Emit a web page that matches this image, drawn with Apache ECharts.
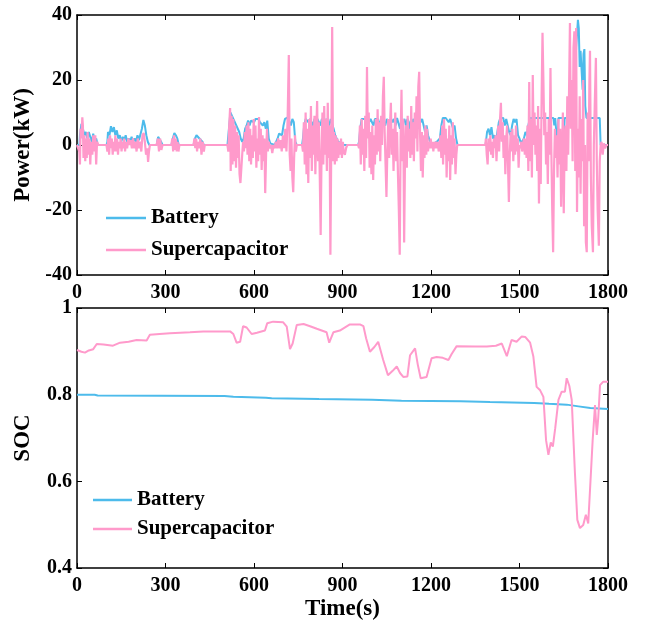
<!DOCTYPE html>
<html>
<head>
<meta charset="utf-8">
<script src="https://cdn.jsdelivr.net/npm/echarts@6/dist/echarts.min.js"></script>
<style>
  html, body { margin: 0; padding: 0; background: #fff; }
  #chart { width: 645px; height: 629px; }
</style>
</head>
<body>
<div id="chart"></div>
<script>
// 时间轴 (s)
const timeRange = [0, 1800, 300]
// 功率轴 (kW) / SOC 轴
const powerRange = [-40, 40, 20]
const socRange = [0.4, 1, 0.2]
const seriesNames = ['Battery', 'Supercapacitor']

// 电池功率 [t, kW]
const batteryPower = [
  [0,0],[8,0],[10,3],[15,6.5],[20,5],[25,3],[30,4],[35,2],[40,4],[45,2.5],[50,1],[55,3.5],[60,1],[65,2],[70,0],[100,0],
  [103,1],[105,4],[110,3],[115,5.8],[120,4],[125,5.5],[130,3],[135,4.5],[140,2],[145,3],[150,1],[155,2.5],[160,1.5],[165,3],[170,1],[175,2],[180,1],[185,2.5],[190,1],[195,2],[200,1],[205,3],[210,1.5],[215,2],[220,5],[225,7.7],[230,6],[235,3],[240,1],[245,0],
  [270,0],[275,2.5],[280,2.8],[285,1],[290,0],
  [320,0],[325,2],[330,3.7],[335,3],[340,2],[345,0],
  [395,0],[400,2],[405,3],[410,3],[415,2],[420,2.5],[425,1],[430,0],
  [510,0],[515,5],[520,10],[525,9],[530,8],[535,7],[540,6],[545,5],[550,4],[555,2],[560,1],[565,2],[570,5],[575,6],[580,7.5],[585,6],[590,7.5],[595,8],[600,7],[605,8],[610,7.5],
  [615,8],[620,7],[625,7.5],[630,6],[635,7],[640,5],[645,7.5],[650,2],[655,0.5],[660,0],[670,0],[675,0.5],[680,2],[685,3.5],[690,4],[695,3],[700,6],[705,8],[710,8.3],[715,8.5],[720,8.3],[725,6],[730,8],[735,7],[740,1],[745,0],
  [763,0],[766,2],[770,6],[775,8],[780,8],[785,7],[790,8],[795,8.3],[800,6],[805,8],[810,7.5],[815,8],[820,8],[825,6],[830,8],[835,8.3],[840,7],[845,8],[850,8],[855,6],[860,8],[865,8],[870,5],[875,3],[880,2],[885,1],[890,1.5],[895,0.5],[900,1],[905,0],
  [953,0],[956,1],[960,5],[965,8],[970,8.3],[975,8],[980,8.3],[985,8],[990,7],[995,8],[1000,8.3],[1005,6],[1010,8],[1015,7.5],[1020,8],[1025,5],[1030,8],[1035,8],[1040,7],[1045,6],[1050,8],[1055,7],[1060,4],[1065,8],[1070,7],[1075,8],[1080,6],[1085,8.3],[1090,8],[1095,5],[1100,8],[1105,7],[1110,8],[1115,6],[1120,8],[1125,7],[1130,4],[1135,6],[1140,8],[1145,7],[1150,8],[1155,5],[1160,8],[1165,7],[1170,8],[1175,6],[1180,4],[1185,6],[1190,3],[1195,1.5],[1200,0.5],[1205,1],[1210,0.5],[1215,1],
  [1220,1],[1225,0.5],[1230,2],[1235,6],[1240,8.3],[1245,8],[1250,8.3],[1255,8],[1260,7],[1265,8],[1270,8.3],[1275,5],[1280,6],[1285,2],[1290,0],
  [1385,0],[1390,4],[1395,5],[1400,3],[1405,5.5],[1410,2],[1415,3],[1420,1],[1425,4],[1430,7],[1435,8.3],[1440,8],[1445,8.3],[1450,6],[1455,8],[1460,8.3],[1465,4],[1470,3],[1475,6],[1480,8],[1485,7],[1490,8],[1495,3],[1500,2],[1505,0.5],[1510,1],[1515,2],[1520,4],
  [1525,3],[1530,6],[1535,8.3],[1615,8.3],[1618,6],[1621,8.3],[1626,8.3],[1628,0],[1632,8.3],[1648,8.3],[1650,0],[1653,8.3],[1680,8.3],[1684,12],[1688,20],[1692,30],[1695,34],[1698,38.5],[1701,36],[1704,24],[1707,29],[1711,29],[1714,17],[1717,28],[1720,29.5],[1723,12],[1727,8.3],[1772,8.3],[1775,0],[1780,0.5],[1785,0],[1790,0.5],[1800,0]
]

// 超级电容功率 [t, kW]
const supercapPower = [
  [0,0],[6,0],[8,-2],[10,-6],[12,5],[15,2],[18,8.5],[20,6],[22,-4],[25,3],[28,-5],[30,2],[33,-4],[36,4],[39,-3],[42,2],[45,-6],[48,1],[52,-3],[55,3],[58,-2],[62,3],[65,-6],[68,1],[72,0],
  [100,0],[103,-2],[106,2],[109,-3],[112,3],[115,-1],[118,2],[121,-3],[124,1],[127,-2],[130,3],[133,-2],[136,2],[139,-3],[142,1],[145,-1],[148,2],[151,-2],[154,1],[157,-1],[160,2],[163,-2],[166,1],[170,-1],[174,2],[178,0],[182,1.5],[186,-1],[190,2],[194,-1],[198,1],[202,-2],[206,2],[210,-1],[214,1],[218,-2],[222,3],[226,3.7],[230,1],[234,-3],[238,-1],[241,-5.2],[244,-2],[247,0],
  [270,0],[274,2],[278,-2],[282,2],[286,-1.5],[290,0],
  [320,0],[323,2],[326,-2],[329,3],[332,-1.5],[335,2],[338,-2],[341,1],[344,-2],[347,0],
  [395,0],[398,2],[401,-1],[404,2],[407,-2],[410,1],[414,-1],[418,2],[422,-3],[426,1],[430,-2],[433,0],
  [510,0],[513,-2],[516,6],[519,11.4],[521,-8],[524,9],[527,-6],[530,8],[533,-5],[536,6],[539,-7],[542,4],[545,-4],[548,3],[551,-9],[554,-11.7],[557,-12],[560,-3],[563,1],[566,-2],[569,4],[572,-1],[575,6],[578,-3],[581,7],[584,-5],[587,5],[590,-6],[593,3],[596,-4],[599,8],[602,-2],[605,6],[608,-7],
  [611,2],[614,-5],[617,8.6],[620,-3],[623,5],[626,-7.7],[629,3],[632,-5],[635,2],[638,-14.8],[641,-3],[644,5],[647,-2],[650,1],[654,-1],[658,0],[662,-2.5],[666,0],[670,-1],[674,1],[678,-1],[682,2],[686,-1],[690,1.5],[694,-2],[698,3],[702,-1],[706,5],[710,-2],[714,8],[718,27.7],[721,-3],[724,-8],[727,2],[730,-10],[733,-14.5],[736,-4],[739,3],[742,-2],[745,0],
  [763,0],[766,-2],[769,7],[772,-6],[775,10],[778,-9],[781,5],[784,-11.7],[787,8],[790,-4],[793,12],[796,-8],[799,6],[802,-3],[805,9],[808,-9],[811,4],[814,13.5],[817,-5],[820,7],[823,-10],[826,-27.7],[829,-2],[832,10],[835,-6],[838,12],[841,-3],[844,8],[847,-8],[850,13],[853,-4],[856,6],[859,-33.8],[862,0],[865,36.3],[868,-5],[871,4],[874,-6],[877,3],[880,-5],[883,2],[886,-4],[889,1],[892,-3],[895,2],[898,-4],[901,1],[904,-2],[908,-3],[912,-1],[916,0],
  [953,0],[956,-1],[959,6],[962,-6],[965,8],[968,-3],[971,5],[974,-8],[977,9],[980,-4],[983,24],[986,2],[989,10],[992,-7],[995,4],[998,-9],[1001,6],[1004,-10.8],[1007,3],[1010,-6],[1013,8],[1016,-3],[1019,11],[1022,-2],[1025,7],[1028,-5],[1031,9],[1034,0],[1037,15],[1040,21],[1043,4],[1046,-6],[1049,-16],[1052,-2],[1055,8],[1058,-4],[1061,6],[1064,13],[1067,-3],[1070,5],[1073,-8],[1076,3],[1079,10],[1082,-5],[1085,4],[1088,-9],[1091,-20],[1094,-33.8],[1097,2],[1100,17],[1103,-5],[1106,8],[1109,-30],[1112,-3],[1115,6],[1118,-7],[1121,9],[1124,-2],[1127,5],[1130,-4],[1133,12],[1136,-3],[1139,7],[1142,-5],[1145,10],[1148,2],[1151,15],[1154,-2],[1157,18],[1160,22.5],[1163,3],[1166,-8],[1169,4],[1172,-10],[1175,3],[1178,-4],[1181,6],[1184,-3],[1187,5],[1190,-2],[1193,1],[1196,-1],[1199,2],[1202,-1],[1205,1],[1208,-2],[1211,1],[1214,-1],
  [1217,1],[1220,-1],[1223,1],[1226,-2],[1229,0],[1232,3],[1235,-4],[1238,6],[1241,-6],[1244,8],[1247,-3],[1250,5],[1253,-10],[1256,2],[1259,-5],[1262,6],[1265,-10.8],[1268,3],[1271,-6],[1274,7],[1277,-4],[1280,2],[1283,-9],[1286,-3],[1289,0],
  [1384,0],[1386,2],[1389,-3],[1392,-6],[1395,2],[1398,-2],[1401,3],[1404,-3],[1407,1],[1410,-4],[1413,2],[1416,-1],[1419,3],[1422,-5],[1425,2],[1428,6],[1431,-2],[1434,8],[1437,13],[1440,1],[1443,7],[1446,-4],[1449,3],[1452,-9],[1455,2],[1458,6],[1461,-6],[1464,-17.5],[1467,-3],[1470,4],[1473,-2],[1476,5],[1479,-5],[1482,3],[1485,-3],[1488,6],[1491,-2],[1494,2],[1497,-7],[1500,0],[1503,-1],[1506,1],[1509,-2],[1512,0],[1515,2],[1518,-3],
  [1521,2],[1524,-4],[1527,6],[1530,-8],[1533,19.4],[1536,-5],[1539,8],[1542,-10],[1545,21.5],[1548,0],[1551,10],[1554,-3],[1557,6],[1560,-8],[1563,12],[1566,-18],[1569,5],[1572,-12],[1575,15],[1578,34.5],[1581,20],[1584,3],[1587,10],[1590,-6],[1593,4],[1596,-12],[1599,8],[1602,-3],[1605,23.7],[1608,-2],[1611,-20],[1614,-33],[1617,-8],[1620,5],[1623,-4],[1626,3],[1629,-10],[1632,8],[1635,-6],[1638,5],[1641,-19],[1644,-3],[1647,10],[1650,-21],[1653,2],[1656,6],[1659,-8],[1662,15],[1665,-3],[1668,17],[1671,37.5],[1674,5],[1677,20],[1680,-5],[1683,30],[1686,35],[1689,-8],[1692,36],[1695,-20.6],[1698,5],[1701,-10],[1704,15],[1707,-15],[1710,8],[1713,-5],[1716,20],[1719,-25],[1722,0],[1725,-30],[1728,-33],[1731,10],[1734,-5],[1737,20],[1739,29],[1742,-10],[1745,-25],[1749,-33],[1752,0],[1755,12],[1759,26.8],[1762,-5],[1765,-20],[1769,-31],[1772,-5],[1775,0],[1778,1],[1782,-3],[1786,0.5],[1790,-1],[1795,0],[1800,0]
]

// 电池 SOC [t, soc]
const batterySoc = [
  [0,0.800],[60,0.800],[70,0.798],[500,0.797],[530,0.795],[640,0.793],[660,0.792],[820,0.790],[1000,0.788],[1100,0.786],[1300,0.785],[1400,0.783],[1550,0.781],[1600,0.779],[1660,0.777],[1700,0.773],[1740,0.769],[1800,0.767]
]

// 超级电容 SOC [t, soc]
const supercapSoc = [
  [0,0.903],[15,0.899],[27,0.897],[40,0.902],[55,0.905],[67,0.917],[90,0.916],[122,0.913],[146,0.92],[175,0.922],[202,0.926],[236,0.925],[247,0.938],[280,0.940],[315,0.9415],[350,0.943],[383,0.944],[428,0.946],[519,0.946],[530,0.94],[541,0.92],[553,0.922],[563,0.958],[575,0.955],[592,0.94],[610,0.943],[637,0.948],[645,0.965],[665,0.9685],[699,0.967],[711,0.957],[722,0.905],[731,0.918],[745,0.961],[768,0.963],[790,0.958],[813,0.952],[846,0.944],[855,0.92],[869,0.944],[891,0.948],[925,0.962],[959,0.962],[971,0.958],[980,0.93],[993,0.899],[1008,0.91],[1021,0.922],[1038,0.88],[1054,0.845],[1070,0.855],[1084,0.865],[1095,0.85],[1106,0.841],[1120,0.842],[1129,0.891],[1146,0.907],[1155,0.87],[1165,0.838],[1185,0.841],[1202,0.884],[1219,0.887],[1240,0.885],[1259,0.88],[1270,0.894],[1287,0.912],[1350,0.911],[1389,0.911],[1420,0.913],[1440,0.918],[1457,0.889],[1473,0.926],[1490,0.922],[1507,0.934],[1520,0.933],[1536,0.92],[1547,0.888],[1558,0.818],[1570,0.81],[1581,0.795],[1590,0.695],[1598,0.661],[1606,0.69],[1613,0.68],[1621,0.722],[1632,0.788],[1643,0.807],[1654,0.807],[1660,0.838],[1669,0.82],[1677,0.788],[1688,0.618],[1696,0.511],[1705,0.492],[1716,0.499],[1725,0.523],[1733,0.503],[1739,0.58],[1748,0.695],[1756,0.776],[1762,0.707],[1767,0.747],[1773,0.822],[1784,0.83],[1800,0.83]
]

const FONT = "'Liberation Serif', 'Times New Roman', serif"
const BLUE = '#4dbbeb'
const PINK = '#ff9acb'

// 刻度文字: 不要千分位, 去掉浮点误差
function tickText(v) {
  return String(Math.round(v * 100) / 100)
}

// 坐标轴公共样式
function axisBase(range, show) {
  return {
    type: 'value',
    min: range[0],
    max: range[1],
    interval: range[2],
    axisLine: { show: true, onZero: false, lineStyle: { color: '#000', width: 1.5 } },
    axisTick: { show: true, inside: true, length: 5, lineStyle: { color: '#000', width: 1 } },
    splitLine: { show: false },
    axisLabel: {
      show: show,
      color: '#000',
      fontFamily: FONT,
      fontWeight: 'bold',
      fontSize: 20,
      formatter: tickText
    }
  }
}

const nameStyle = { color: '#000', fontFamily: FONT, fontWeight: 'bold', fontSize: 23 }

const xAxis = [
  Object.assign(axisBase(timeRange, true), { gridIndex: 0, position: 'bottom' }),
  Object.assign(axisBase(timeRange, false), { gridIndex: 0, position: 'top' }),
  Object.assign(axisBase(timeRange, true), {
    gridIndex: 1, position: 'bottom',
    name: 'Time(s)', nameLocation: 'middle', nameGap: 30, nameTextStyle: nameStyle
  }),
  Object.assign(axisBase(timeRange, false), { gridIndex: 1, position: 'top' })
]
xAxis[0].axisLabel.margin = 8
xAxis[2].axisLabel.margin = 8

const yAxis = [
  Object.assign(axisBase(powerRange, true), {
    gridIndex: 0, position: 'left',
    name: 'Power(kW)', nameLocation: 'middle', nameGap: 42, nameTextStyle: nameStyle
  }),
  Object.assign(axisBase(powerRange, false), { gridIndex: 0, position: 'right' }),
  Object.assign(axisBase(socRange, true), {
    gridIndex: 1, position: 'left',
    name: 'SOC', nameLocation: 'middle', nameGap: 42, nameTextStyle: nameStyle
  }),
  Object.assign(axisBase(socRange, false), { gridIndex: 1, position: 'right' })
]
yAxis[0].axisLabel.margin = 5
yAxis[2].axisLabel.margin = 5

function lineSeries(name, data, color, axisIndex, width) {
  return {
    name: name,
    type: 'line',
    xAxisIndex: axisIndex,
    yAxisIndex: axisIndex,
    data: data,
    symbol: 'none',
    sampling: null,
    lineStyle: { color: color, width: width },
    itemStyle: { color: color },
    emphasis: { disabled: true }
  }
}

const legendText = { color: '#000', fontFamily: FONT, fontWeight: 'bold', fontSize: 21, lineHeight: 22 }
// 图例只画一条横线
const legendItems = seriesNames.map(n => ({ name: n, icon: 'rect' }))

const option = {
  animation: false,
  backgroundColor: '#fff',
  grid: [
    { left: 77, right: 37, top: 15, height: 260 },
    { left: 77, right: 37, top: 308, height: 260 }
  ],
  legend: [
    {
      data: legendItems, orient: 'vertical', left: 101, top: 202,
      itemWidth: 40, itemHeight: 2.5, itemGap: 10, textStyle: legendText, selectedMode: false
    },
    {
      data: legendItems, orient: 'vertical', left: 88, top: 484,
      itemWidth: 39, itemHeight: 2.5, itemGap: 7, textStyle: legendText, selectedMode: false
    }
  ],
  xAxis: xAxis,
  yAxis: yAxis,
  series: [
    lineSeries(seriesNames[0], batteryPower, BLUE, 0, 2),
    lineSeries(seriesNames[1], supercapPower, PINK, 0, 2.2),
    lineSeries(seriesNames[0], batterySoc, BLUE, 2, 2),
    lineSeries(seriesNames[1], supercapSoc, PINK, 2, 2)
  ]
}

const chart = echarts.init(document.getElementById('chart'))
chart.setOption(option)
</script>
</body>
</html>
